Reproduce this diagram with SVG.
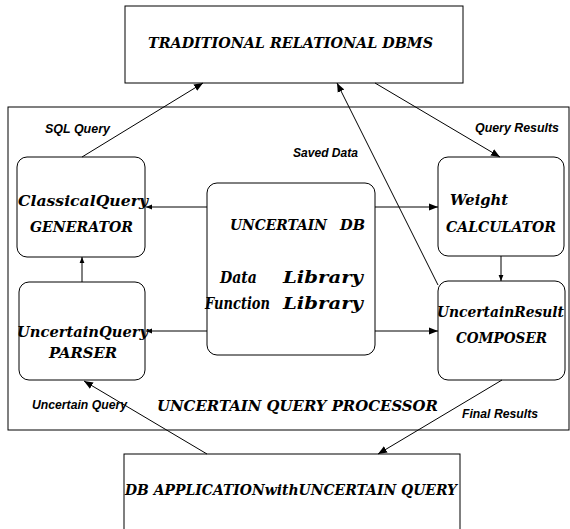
<svg xmlns="http://www.w3.org/2000/svg" width="570" height="529" viewBox="0 0 570 529">
<defs>
<marker id="ah" viewBox="0 0 10 10" refX="10" refY="5" markerWidth="9" markerHeight="9" markerUnits="userSpaceOnUse" orient="auto">
<path d="M0,1 L10,5 L0,9 z" fill="#000"/>
</marker>
<marker id="sm" viewBox="0 0 10 10" refX="10" refY="5" markerWidth="6" markerHeight="6" markerUnits="userSpaceOnUse" orient="auto">
<path d="M0,1 L10,5 L0,9 z" fill="#000"/>
</marker>
</defs>
<style>
.box{fill:#fff;stroke:#000;stroke-width:1}
.frame{fill:none;stroke:#000;stroke-width:1}
.t{font-family:"DejaVu Serif","Liberation Serif",serif;font-weight:bold;font-style:italic;fill:#000;font-size:15px}
.b{font-size:17px}
.l{font-family:"Liberation Sans",Arial,sans-serif;font-weight:bold;font-style:italic;font-size:12px;fill:#000}
.c{stroke:#000;stroke-width:1;fill:none}
</style>
<rect width="570" height="529" fill="#fff"/>
<g id="processor">
<rect class="frame" x="8" y="107" width="561" height="323"/>
<text class="t" x="157" y="411" textLength="281" lengthAdjust="spacingAndGlyphs">UNCERTAIN QUERY PROCESSOR</text>
</g>
<g id="dbms">
<rect class="box" x="125" y="6" width="338" height="77"/>
<text class="t" x="148" y="48" textLength="285" lengthAdjust="spacingAndGlyphs">TRADITIONAL RELATIONAL DBMS</text>
</g>
<g id="application">
<rect class="box" x="124" y="454" width="336" height="90"/>
<text class="t" x="125" y="495" textLength="332" lengthAdjust="spacingAndGlyphs">DB APPLICATIONwithUNCERTAIN QUERY</text>
</g>
<g id="generator">
<rect class="box" x="17" y="157" width="128" height="100" rx="10"/>
<text class="t" x="18" y="206" textLength="130" lengthAdjust="spacingAndGlyphs">ClassicalQuery</text>
<text class="t" x="30" y="232" textLength="103" lengthAdjust="spacingAndGlyphs">GENERATOR</text>
</g>
<g id="parser">
<rect class="box" x="19" y="282" width="126" height="98" rx="10"/>
<text class="t" x="17" y="337" textLength="131" lengthAdjust="spacingAndGlyphs">UncertainQuery</text>
<text class="t" x="49" y="358" textLength="68" lengthAdjust="spacingAndGlyphs">PARSER</text>
</g>
<g id="uncertaindb">
<rect class="box" x="207" y="183" width="168" height="172" rx="10"/>
<text class="t" x="230" y="230" textLength="97" lengthAdjust="spacingAndGlyphs">UNCERTAIN</text>
<text class="t" x="340" y="230" textLength="25" lengthAdjust="spacingAndGlyphs">DB</text>
<text class="t b" x="220" y="283" textLength="37" lengthAdjust="spacingAndGlyphs">Data</text>
<text class="t b" x="283" y="283" textLength="80" lengthAdjust="spacingAndGlyphs">Library</text>
<text class="t b" x="205" y="309" textLength="65" lengthAdjust="spacingAndGlyphs">Function</text>
<text class="t b" x="283" y="309" textLength="80" lengthAdjust="spacingAndGlyphs">Library</text>
</g>
<g id="weight">
<rect class="box" x="438" y="157" width="126" height="99" rx="10"/>
<text class="t" x="450" y="205" textLength="58" lengthAdjust="spacingAndGlyphs">Weight</text>
<text class="t" x="446" y="232" textLength="110" lengthAdjust="spacingAndGlyphs">CALCULATOR</text>
</g>
<g id="composer">
<rect class="box" x="438" y="281" width="127" height="99" rx="10"/>
<text class="t" x="437" y="317" textLength="127" lengthAdjust="spacingAndGlyphs">UncertainResult</text>
<text class="t" x="456" y="343" textLength="91" lengthAdjust="spacingAndGlyphs">COMPOSER</text>
</g>
<g id="connectors">
<line class="c" x1="82" y1="157" x2="203" y2="83" marker-end="url(#ah)"/>
<line class="c" x1="438" y1="285" x2="337" y2="83" marker-end="url(#ah)"/>
<line class="c" x1="375" y1="83" x2="500" y2="157" marker-end="url(#ah)"/>
<line class="c" x1="207" y1="207" x2="146" y2="207" marker-end="url(#sm)"/>
<line class="c" x1="207" y1="331" x2="146" y2="331" marker-end="url(#sm)"/>
<line class="c" x1="375" y1="207" x2="438" y2="207" marker-end="url(#ah)"/>
<line class="c" x1="375" y1="331" x2="438" y2="331" marker-end="url(#ah)"/>
<line class="c" x1="82" y1="282" x2="82" y2="257" marker-end="url(#sm)"/>
<line class="c" x1="501" y1="256" x2="501" y2="281" marker-end="url(#sm)"/>
<line class="c" x1="207" y1="454" x2="84" y2="381" marker-end="url(#ah)"/>
<line class="c" x1="502" y1="380" x2="378" y2="454" marker-end="url(#ah)"/>
<text class="l" x="45" y="133" textLength="65" lengthAdjust="spacingAndGlyphs">SQL Query</text>
<text class="l" x="293" y="157" textLength="65" lengthAdjust="spacingAndGlyphs">Saved Data</text>
<text class="l" x="475" y="132" textLength="84" lengthAdjust="spacingAndGlyphs">Query Results</text>
<text class="l" x="32" y="409" textLength="95" lengthAdjust="spacingAndGlyphs">Uncertain Query</text>
<text class="l" x="462" y="418" textLength="76" lengthAdjust="spacingAndGlyphs">Final Results</text>
</g>
</svg>
